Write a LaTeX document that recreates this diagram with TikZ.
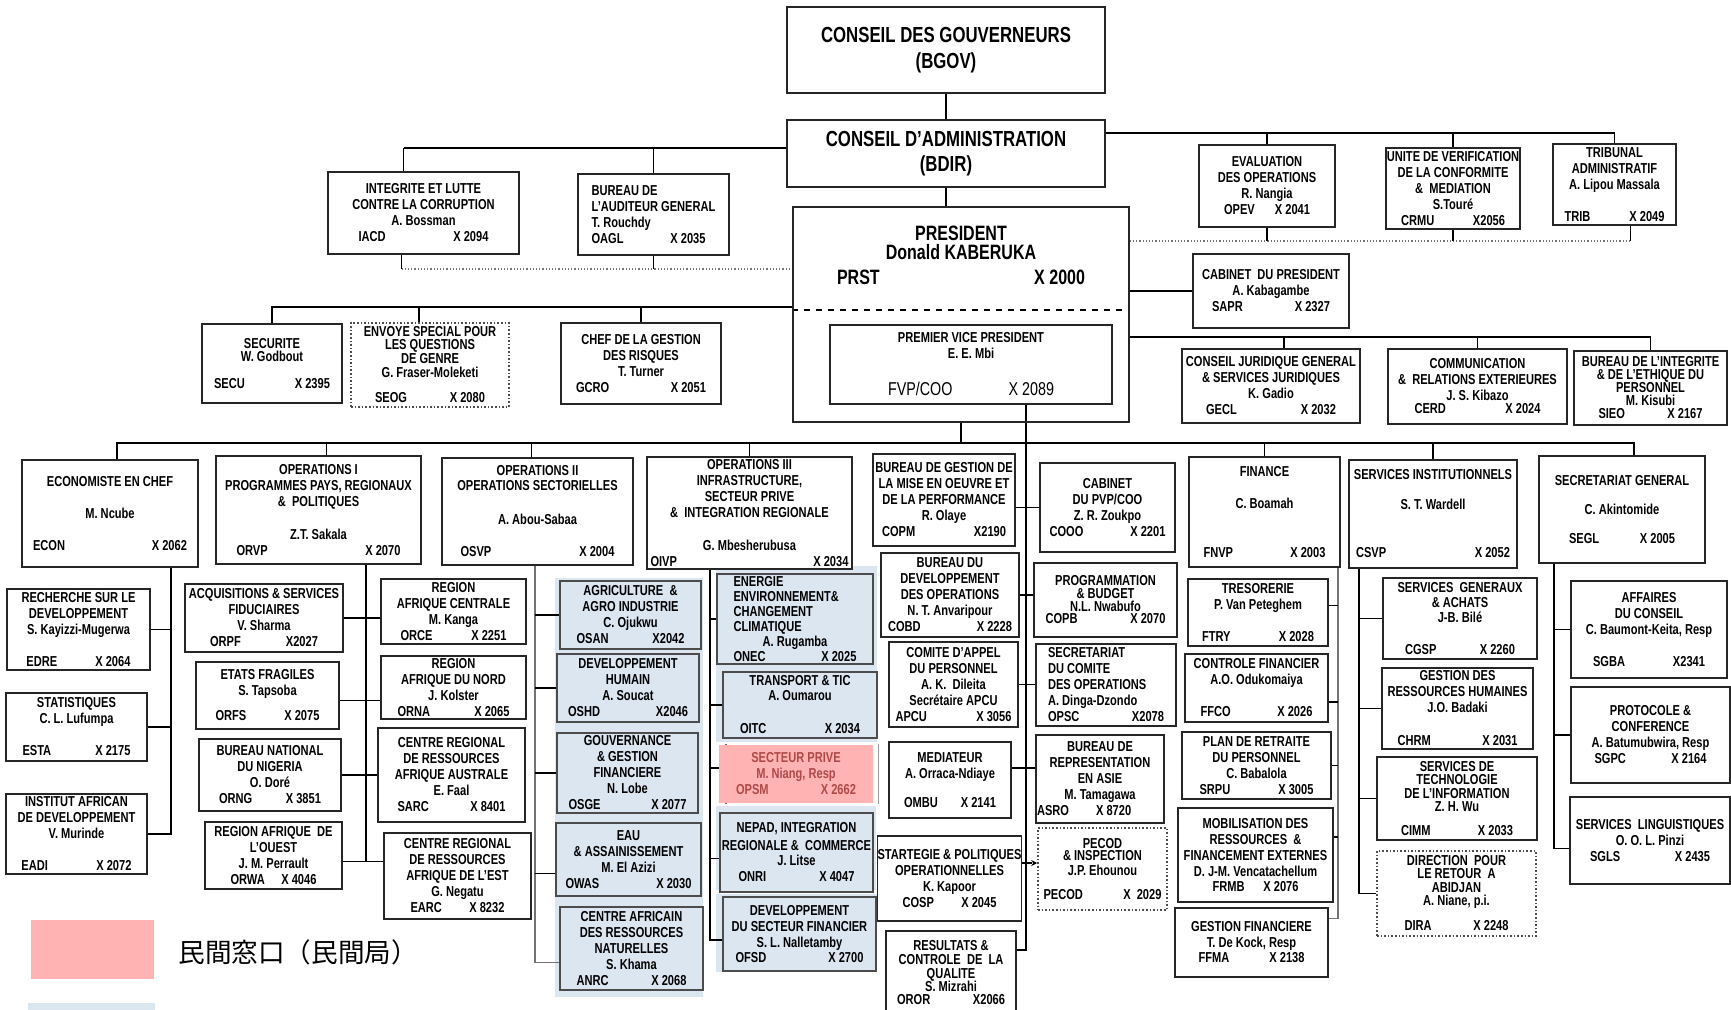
\documentclass[tikz,border=0pt]{standalone}
\usepackage{fontspec}
\setmainfont{Liberation Sans}[FakeStretch=0.77]
\newfontfamily\cjkfont{Noto Sans CJK JP}
\usepackage{tikz}
\usetikzlibrary{backgrounds,arrows.meta}
\definecolor{bluefill}{HTML}{DCE6F1}
\definecolor{pinkfill}{HTML}{FFB3B3}
\definecolor{pinktext}{HTML}{B04A4A}
\newcommand{\unitfont}{\fontsize{7.2}{8}\selectfont\bfseries}
\newcommand{\bigfont}{\fontsize{10.9}{12.5}\selectfont\bfseries}
\newcommand{\idrow}[3][50pt]{\makebox[#1]{#2\hfill #3}}
\tikzset{
  corners/.style args = {#1/#2/#3/#4}{at = {({(#1+#3)/2},{(#2+#4)/2})}, minimum width = {(#3-#1)*0.5pt}, minimum height = {(#4-#2)*0.5pt}},
  unit/.style = {draw = black!85, line width = 0.8pt, fill = white, inner sep = 0pt, align = center, font = \unitfont},
  blueunit/.style = {unit, fill = bluefill, draw = black!70},
  dotunit/.style = {unit, draw = black!70, densely dotted},
  pinkunit/.style = {unit, draw = none, fill = pinkfill, text = pinktext},
  link/.style = {line width = 0.6pt},
  softlink/.style = {link, draw = black!55},
  bar/.style = {line width = 1.3pt},
  dotlink/.style = {line width = 0.6pt, draw = black!55, densely dotted}
}
\begin{document}
\begin{tikzpicture}[x = 0.5pt, y = -0.5pt]
\useasboundingbox (0,0) rectangle (1731,1009);
\clip (0,0) rectangle (1731,1009);

\node[unit, corners = 787/7/1105/93, font = \fontsize{10.9}{13}\selectfont\bfseries] (bgov) {CONSEIL DES GOUVERNEURS\\(BGOV)};
\node[unit, corners = 787/120/1105/187, font = \bigfont] (bdir) {CONSEIL D’ADMINISTRATION\\(BDIR)};
\node[unit, fill = none, corners = 793/207/1129/422] (prst) {};
\node[align = center, inner sep = 0pt, font = \fontsize{10.4}{9.5}\selectfont\bfseries] (prsttxt) at (961,255)
  {PRESIDENT\\Donald KABERUKA\\[3pt]\makebox[124pt]{PRST\hfill X 2000}};
\node[unit, corners = 830/325/1112/404] (pvp)
  {PREMIER VICE PRESIDENT\\E. E. Mbi\\[10.5pt]{\fontsize{9.3}{8}\selectfont\mdseries\makebox[83pt]{FVP/COO\hfill X 2089}}};

\node[unit, corners = 328/172/519/254] (iacd) {INTEGRITE ET LUTTE\\CONTRE LA CORRUPTION\\A. Bossman\\\idrow[65pt]{IACD}{X 2094}};
\node[unit, align = left, corners = 578/174/729/255] (oagl) {BUREAU DE\\L’AUDITEUR GENERAL\\T. Rouchdy\\\makebox[57pt][l]{OAGL\hfill X 2035}};
\node[unit, corners = 1199/145/1335/227] (opev) {EVALUATION\\DES OPERATIONS\\R. Nangia\\\idrow[43pt]{OPEV}{X 2041}};
\node[unit, corners = 1386/148/1520/229] (crmu) {UNITE DE VERIFICATION\\DE LA CONFORMITE\\\&\ \ MEDIATION\\S.Touré\\\idrow[52pt]{CRMU}{X2056}};
\node[unit, corners = 1553/144/1676/225] (trib) {TRIBUNAL\\ADMINISTRATIF\\A. Lipou Massala\\[8pt]\idrow[50pt]{TRIB}{X 2049}};
\node[unit, corners = 1193/254/1349/328] (sapr) {CABINET\ \ DU PRESIDENT\\A. Kabagambe\\\idrow[59pt]{SAPR}{X 2327}};

\node[unit, corners = 202/324/342/403] (secu) {SECURITE\\[-1.5pt]W. Godbout\\[5.5pt]\idrow[58pt]{SECU}{X 2395}};
\node[dotunit, corners = 351/323/509/407] (seog) {ENVOYE SPECIAL POUR\\[-1.5pt]LES QUESTIONS\\[-1pt]DE GENRE\\[-1pt]G. Fraser-Moleketi\\[4.5pt]\idrow[55pt]{SEOG}{X 2080}};
\node[unit, corners = 561/323/721/404] (gcro) {CHEF DE LA GESTION\\DES RISQUES\\T. Turner\\\idrow[65pt]{GCRO}{X 2051}};
\node[unit, corners = 1182/349/1360/423] (gecl) {CONSEIL JURIDIQUE GENERAL\\\& SERVICES JURIDIQUES\\K. Gadio\\\idrow[65pt]{GECL}{X 2032}};
\node[unit, corners = 1388/349/1567/424] (cerd) {COMMUNICATION\\\&\ \ RELATIONS EXTERIEURES\\J. S. Kibazo\\[-1.5pt]\idrow[63pt]{CERD}{X 2024}};
\node[unit, corners = 1574/351/1727/425] (sieo) {BUREAU DE L’INTEGRITE\\[-1.5pt]\& DE L’ETHIQUE DU\\[-1.5pt]PERSONNEL\\[-1.5pt]M. Kisubi\\[-1.5pt]\idrow[52pt]{SIEO}{X 2167}};

\node[unit, corners = 22/460/198/567] (econ) {ECONOMISTE EN CHEF\\[8pt]M. Ncube\\[8pt]\idrow[77pt]{ECON}{X 2062}};
\node[unit, corners = 216/456/421/564] (orvp) {OPERATIONS I\\PROGRAMMES PAYS, REGIONAUX\\\&\ \ POLITIQUES\\[8.5pt]Z.T. Sakala\\\idrow[82pt]{ORVP}{X 2070}};
\node[unit, corners = 442/458/633/565] (osvp) {OPERATIONS II\\[-0.5pt]OPERATIONS SECTORIELLES\\[9pt]A. Abou-Sabaa\\[8pt]\idrow[77pt]{OSVP}{X 2004}};
\node[unit, corners = 647/457/852/569] (oivp) {OPERATIONS III\\INFRASTRUCTURE,\\SECTEUR PRIVE\\\&\ \ INTEGRATION REGIONALE\\[8.5pt]G. Mbesherubusa\\\idrow[99pt]{OIVP}{X 2034}};
\node[unit, corners = 873/454/1015/546] (copm) {BUREAU DE GESTION DE\\LA MISE EN OEUVRE ET\\DE LA PERFORMANCE\\R. Olaye\\\idrow[62pt]{COPM}{X2190}};
\node[unit, corners = 1040/463/1175/552] (cooo) {CABINET\\DU PVP/COO\\Z. R. Zoukpo\\\idrow[58pt]{COOO}{X 2201}};
\node[unit, corners = 1189/457/1340/567] (fnvp) {FINANCE\\[8pt]C. Boamah\\[16.5pt]\idrow[61pt]{FNVP}{X 2003}};
\node[unit, corners = 1349/460/1517/568] (csvp) {SERVICES INSTITUTIONNELS\\[7pt]S. T. Wardell\\[16pt]\idrow[77pt]{CSVP}{X 2052}};
\node[unit, corners = 1539/456/1705/563] (segl) {SECRETARIAT GENERAL\\[6.5pt]C. Akintomide\\[6.5pt]\idrow[53pt]{SEGL}{X 2005}};

\node[unit, corners = 7/589/150/670] (edre) {RECHERCHE SUR LE\\DEVELOPPEMENT\\S. Kayizzi-Mugerwa\\[8pt]\idrow[52pt]{EDRE}{X 2064}};
\node[unit, corners = 6/693/147/761] (esta) {STATISTIQUES\\C. L. Lufumpa\\[8pt]\idrow[54pt]{ESTA}{X 2175}};
\node[unit, corners = 6/794/147/874] (eadi) {INSTITUT AFRICAN\\DE DEVELOPPEMENT\\V. Murinde\\[8pt]\idrow[55pt]{EADI}{X 2072}};

\node[unit, corners = 185/584/343/652] (orpf) {ACQUISITIONS \& SERVICES\\FIDUCIAIRES\\V. Sharma\\\idrow[54pt]{ORPF}{X2027}};
\node[unit, corners = 381/579/526/644] (orce) {REGION\\AFRIQUE CENTRALE\\M. Kanga\\\idrow[53pt]{ORCE}{X 2251}};
\node[unit, corners = 196/662/339/729] (orfs) {ETATS FRAGILES\\S. Tapsoba\\[4.5pt]\idrow[52pt]{ORFS}{X 2075}};
\node[unit, corners = 381/656/526/719] (orna) {REGION\\AFRIQUE DU NORD\\J. Kolster\\\idrow[56pt]{ORNA}{X 2065}};
\node[unit, corners = 199/739/341/811] (orng) {BUREAU NATIONAL\\DU NIGERIA\\O. Doré\\\idrow[51pt]{ORNG}{X 3851}};
\node[unit, corners = 378/728/525/822] (sarc) {CENTRE REGIONAL\\DE RESSOURCES\\AFRIQUE AUSTRALE\\E. Faal\\\idrow[54pt]{SARC}{X 8401}};
\node[unit, corners = 205/822/342/889] (orwa) {REGION AFRIQUE\ \ DE\\L’OUEST\\J. M. Perrault\\\idrow[43pt]{ORWA}{X 4046}};
\node[unit, corners = 384/833/531/919] (earc) {CENTRE REGIONAL\\DE RESSOURCES\\AFRIQUE DE L’EST\\G. Negatu\\\idrow[47pt]{EARC}{X 8232}};

\node[blueunit, corners = 560/581/701/649] (osan) {AGRICULTURE\ \ \&\\AGRO INDUSTRIE\\C. Ojukwu\\\idrow[54pt]{OSAN}{X2042}};
\node[blueunit, corners = 557/654/699/722] (oshd) {DEVELOPPEMENT\\HUMAIN\\A. Soucat\\\idrow[60pt]{OSHD}{X2046}};
\node[blueunit, corners = 557/733/698/813] (osge) {GOUVERNANCE\\\& GESTION\\FINANCIERE\\N. Lobe\\\idrow[59pt]{OSGE}{X 2077}};
\node[blueunit, corners = 556/823/701/896] (owas) {EAU\\\& ASSAINISSEMENT\\M. El Azizi\\\idrow[63pt]{OWAS}{X 2030}};
\node[blueunit, corners = 560/907/703/990] (anrc) {CENTRE AFRICAIN\\DES RESSOURCES\\NATURELLES\\S. Khama\\\idrow[55pt]{ANRC}{X 2068}};

\node[blueunit, align = left, corners = 717/574/873/664] (onec) {ENERGIE\\[-0.5pt]ENVIRONNEMENT\&\\[-0.5pt]CHANGEMENT\\[-0.5pt]CLIMATIQUE\\[-0.5pt]\makebox[61.5pt]{A. Rugamba}\\[-0.5pt]\makebox[61.5pt]{ONEC\hfill X 2025}};
\node[blueunit, corners = 723/672/877/738] (oitc) {TRANSPORT \& TIC\\[-0.5pt]A. Oumarou\\[8.5pt]\idrow[60pt]{OITC}{X 2034}};
\node[pinkunit, corners = 719/745/873/803] (opsm) {SECTEUR PRIVE\\M. Niang, Resp\\\idrow[60pt]{OPSM}{X 2662}};
\node[blueunit, corners = 720/813/873/892] (onri) {NEPAD, INTEGRATION\\[1pt]REGIONALE \&\ \ COMMERCE\\[-0.5pt]J. Litse\\\idrow[58pt]{ONRI}{X 4047}};
\node[blueunit, corners = 723/897/876/971] (ofsd) {DEVELOPPEMENT\\DU SECTEUR FINANCIER\\S. L. Nalletamby\\[-0.5pt]\idrow[64pt]{OFSD}{X 2700}};

\node[unit, corners = 881/553/1019/637] (cobd) {BUREAU DU\\DEVELOPPEMENT\\DES OPERATIONS\\N. T. Anvaripour\\\idrow[62pt]{COBD}{X 2228}};
\node[unit, corners = 1034/563/1177/637] (copb) {PROGRAMMATION\\[-1.5pt]\& BUDGET\\[-1.5pt]N.L. Nwabufo\\[-2pt]\idrow[60pt]{COPB}{X 2070}};
\node[unit, corners = 889/642/1018/727] (apcu) {COMITE D’APPEL\\DU PERSONNEL\\A. K.\ \ Dileita\\Secrétaire APCU\\\idrow[58pt]{APCU}{X 3056}};
\node[unit, align = left, corners = 1036/644/1176/726] (opsc) {SECRETARIAT\\DU COMITE\\DES OPERATIONS\\A. Dinga-Dzondo\\\makebox[58pt][l]{OPSC\hfill X2078}};
\node[unit, corners = 889/742/1011/818] (ombu) {MEDIATEUR\\A. Orraca-Ndiaye\\[6.5pt]\idrow[46pt]{OMBU}{X 2141}};
\node[unit, corners = 1036/735/1164/823] (asro) {BUREAU DE\\REPRESENTATION\\EN ASIE\\M. Tamagawa\\\makebox[63pt][l]{ASRO\hspace{13.5pt}X 8720}};
\node[unit, corners = 878/836/1021/921] (cosp) {STARTEGIE \& POLITIQUES\\OPERATIONNELLES\\K. Kapoor\\\idrow[47pt]{COSP}{X 2045}};
\node[dotunit, corners = 1038/828/1167/910] (pecod) {PECOD\\[-2pt]\& INSPECTION\\[-0.5pt]J.P. Ehounou\\[4pt]\idrow[59pt]{PECOD}{X\ \ 2029}};
\node[unit, corners = 886/931/1016/1015] (oror) {RESULTATS \&\\[-1pt]CONTROLE\ \ DE\ \ LA\\[-1pt]QUALITE\\[-1.5pt]S. Mizrahi\\[-1.5pt]\idrow[54pt]{OROR}{X2066}};

\node[unit, corners = 1188/579/1328/646] (ftry) {TRESORERIE\\P. Van Peteghem\\[8pt]\idrow[56pt]{FTRY}{X 2028}};
\node[unit, corners = 1185/654/1328/722] (ffco) {CONTROLE FINANCIER\\A.O. Odukomaiya\\[8pt]\idrow[56pt]{FFCO}{X 2026}};
\node[unit, corners = 1182/732/1331/799] (srpu) {PLAN DE RETRAITE\\DU PERSONNEL\\C. Babalola\\\idrow[57pt]{SRPU}{X 3005}};
\node[unit, corners = 1178/808/1333/902] (frmb) {MOBILISATION DES\\RESSOURCES\ \ \&\\FINANCEMENT EXTERNES\\D. J-M. Vencatachellum\\[-0.5pt]\idrow[43pt]{FRMB}{X 2076}};
\node[unit, corners = 1175/908/1328/977] (ffma) {GESTION FINANCIERE\\T. De Kock, Resp\\[-0.5pt]\idrow[53pt]{FFMA}{X 2138}};

\node[unit, corners = 1383/578/1537/659] (cgsp) {SERVICES\ \ GENERAUX\\[-0.5pt]\& ACHATS\\[-0.5pt]J-B. Bilé\\[8pt]\idrow[55pt]{CGSP}{X 2260}};
\node[unit, corners = 1382/668/1533/749] (chrm) {GESTION DES\\RESSOURCES HUMAINES\\J.O. Badaki\\[8.5pt]\idrow[60pt]{CHRM}{X 2031}};
\node[unit, corners = 1377/757/1537/840] (cimm) {SERVICES DE\\[-1.5pt]TECHNOLOGIE\\[-1pt]DE L’INFORMATION\\[-1.5pt]Z. H. Wu\\[4pt]\idrow[56pt]{CIMM}{X 2033}};
\node[dotunit, corners = 1377/851/1536/936] (dira) {DIRECTION\ \ POUR\\[-1.5pt]LE RETOUR\ \ A\\[-1pt]ABIDJAN\\[-1.5pt]A. Niane, p.i.\\[4.5pt]\idrow[52pt]{DIRA}{X 2248}};

\node[unit, corners = 1571/581/1727/678] (sgba) {AFFAIRES\\DU CONSEIL\\C. Baumont-Keita, Resp\\[8pt]\idrow[56pt]{SGBA}{X2341}};
\node[unit, corners = 1571/687/1730/783] (sgpc) {PROTOCOLE \&\\CONFERENCE\\A. Batumubwira, Resp\\\idrow[56pt]{SGPC}{X 2164}};
\node[unit, corners = 1570/797/1730/884] (sgls) {SERVICES\ \ LINGUISTIQUES\\O. O. L. Pinzi\\\idrow[60pt]{SGLS}{X 2435}};

\node[fill = pinkfill, inner sep = 0pt, corners = 31/920/154/979] (keypink) {};
\node[anchor = west, inner sep = 0pt, font = {\fontsize{13.3}{15}\selectfont\cjkfont}] (keytext) at (178,952) {民間窓口（民間局）};
\node[fill = bluefill, inner sep = 0pt, corners = 28/1003/155/1015] (keyblue) {};

\coordinate (leftbar) at (0,148);
\coordinate (rightbar) at (0,133);
\coordinate (leftdots) at (0,269);
\coordinate (rightdots) at (0,241);
\coordinate (secbar) at (0,307);
\coordinate (sidebar) at (0,337);
\coordinate (mainbar) at (0,443);
\coordinate (econspine) at (171,0);
\coordinate (orvpspine) at (366,0);
\coordinate (osvpspine) at (535,0);
\coordinate (oivpspine) at (710,0);
\coordinate (fvpspine) at (1026,0);
\coordinate (fnvpspine) at (1338,0);
\coordinate (csvpspine) at (1359,0);
\coordinate (seglspine) at (1554,0);

\begin{pgfonlayer}{background}
\fill[bluefill] (555,578) rectangle (703,997);
\fill[bluefill] (716,566) rectangle (877,742);
\fill[bluefill] (716,806) rectangle (876,890);
\fill[bluefill] (716,894) rectangle (877,972);

\draw[link] (bgov) -- (bdir);
\draw[link] (bdir.south) -- (bdir.south |- prst.north);
\draw[bar] (bdir.west |- leftbar) -- ([xshift = -10pt]iacd.north |- leftbar);
\draw[link] ([xshift = -10pt]iacd.north) -- ([xshift = -10pt]iacd.north |- leftbar);
\draw[link] (oagl.north) -- (oagl.north |- leftbar);
\draw[bar] (bdir.east |- rightbar) -- (trib.north |- rightbar);
\draw[link] (opev.north) -- (opev.north |- rightbar);
\draw[link] (crmu.north) -- (crmu.north |- rightbar);
\draw[link] (trib.north) -- (trib.north |- rightbar);

\draw[dotlink] ([xshift = -11pt]iacd.south |- leftdots) -- (prst.west |- leftdots);
\draw[link] ([xshift = -11pt]iacd.south) -- ([xshift = -11pt]iacd.south |- leftdots);
\draw[link] (oagl.south) -- (oagl.south |- leftdots);
\draw[dotlink] (prst.east |- rightdots) -- ([xshift = 8pt]trib.south |- rightdots);
\draw[link] (opev.south) -- (opev.south |- rightdots);
\draw[link] (crmu.south) -- (crmu.south |- rightdots);
\draw[link] ([xshift = 8pt]trib.south) -- ([xshift = 8pt]trib.south |- rightdots);

\draw[link] (sapr.west) -- (sapr.west -| prst.east);
\draw[link] (prst.east |- sidebar) -| (sieo.north);
\draw[link] ([xshift = 6.5pt]gecl.north) -- ([xshift = 6.5pt]gecl.north |- sidebar);
\draw[link] (cerd.north) -- (cerd.north |- sidebar);
\draw[link] (prst.west |- secbar) -| (secu.north);
\draw[link] ([xshift = -5.5pt]seog.north) -- ([xshift = -5.5pt]seog.north |- secbar);
\draw[link] (gcro.north) -- (gcro.north |- secbar);
\draw[dashed, line width = 0.7pt] (prst.west |- 0,310) -- (prst.east |- 0,310);

\draw[link] (prst.south) -- (prst.south |- mainbar);
\draw[link, line width = 0.8pt] ([xshift = 3.5pt]econ.north) -- ([xshift = 3.5pt]econ.north |- mainbar) -- ([xshift = 6pt]segl.north |- mainbar) -- ([xshift = 6pt]segl.north);
\draw[link] ([xshift = 4pt]orvp.north) -- ([xshift = 4pt]orvp.north |- mainbar);
\draw[link] ([xshift = -3pt]osvp.north) -- ([xshift = -3pt]osvp.north |- mainbar);
\draw[link] (oivp.north) -- (oivp.north |- mainbar);
\draw[link] (fnvp.north) -- (fnvp.north |- mainbar);
\draw[link] (csvp.north) -- (csvp.north |- mainbar);

\draw[link] (econ.south -| econspine) -- (eadi.east -| econspine) -- (eadi.east);
\draw[link] (edre.east) -- (edre.east -| econspine);
\draw[link] (esta.east) -- (esta.east -| econspine);

\draw[link] (orvp.south -| orvpspine) -- ([yshift = -3pt]orwa.east -| orvpspine);
\draw[link] (orpf.east) -- (orpf.east -| orce.west);
\draw[link] ([yshift = -2.5pt]orfs.east) -- ([yshift = -2.5pt]orfs.east -| orna.west);
\draw[link] (orng.east) -- (orng.east -| sarc.west);
\draw[link] ([yshift = -3pt]orwa.east) -- ([yshift = -3pt]orwa.east -| earc.west);

\draw[softlink] (osvp.south -| osvpspine) -- ([yshift = -7pt]anrc.west -| osvpspine) -- ([yshift = -7pt]anrc.west);
\draw[link] (osan.west) -- (osan.west -| osvpspine);
\draw[link] (oshd.west) -- (oshd.west -| osvpspine);
\draw[link] (osge.west) -- (osge.west -| osvpspine);
\draw[link] ([yshift = -7pt]owas.west) -- ([yshift = -7pt]owas.west -| osvpspine);

\draw[link] (oivp.south -| oivpspine) -- ([yshift = -3pt]ofsd.west -| oivpspine) -- ([yshift = -3pt]ofsd.west);
\draw[link] (onec.west) -- (onec.west -| oivpspine);
\draw[link] (oitc.west) -- (oitc.west -| oivpspine);
\draw[link] ([yshift = 3pt]opsm.west -| oivpspine) -- ([xshift = 4pt, yshift = 3pt]opsm.west);
\draw[line width = 0.8pt, draw = pinktext] ([xshift = 4pt]opsm.north west) -- ([xshift = 4pt]opsm.south west);
\draw[link, draw = black!40] ([xshift = 2.5pt]opsm.north east) -- ([xshift = 2.5pt]opsm.south east);
\draw[link] ([yshift = -3pt]onri.west) -- ([yshift = -3pt]onri.west -| oivpspine);

\draw[link] (pvp.south -| fvpspine) -- ([yshift = 11.5pt]oror.east -| fvpspine) -- ([yshift = 11.5pt]oror.east);
\draw[link] (cooo.west) -- (cooo.west -| copm.east);
\draw[link] (cobd.east) -- (cobd.east -| copb.west);
\draw[link] (apcu.east) -- (apcu.east -| opsc.west);
\draw[link] ([yshift = 6pt]ombu.east) -- ([yshift = 6pt]ombu.east -| asro.west);
\draw[link] ([yshift = 3pt]pecod.west -| cosp.east) -- ([yshift = 3pt]pecod.west -| fvpspine);
\draw[link, densely dashed, -{Stealth[length = 3pt, width = 3pt]}] ([yshift = 3pt]pecod.west -| fvpspine) -- ([yshift = 3pt]pecod.west);

\draw[softlink] (fnvp.south -| fnvpspine) -- ([yshift = 12pt]ffma.east -| fnvpspine) -- ([yshift = 12pt]ffma.east);
\draw[link] ([yshift = 3.5pt]ftry.east) -- ([yshift = 3.5pt]ftry.east -| fnvpspine);
\draw[link] ([yshift = -7pt]ffco.east) -- ([yshift = -7pt]ffco.east -| fnvpspine);
\draw[link] (srpu.east) -- (srpu.east -| fnvpspine);
\draw[link] ([yshift = 9pt]frmb.east) -- ([yshift = 9pt]frmb.east -| fnvpspine);

\draw[link] (csvp.south -| csvpspine) -- (dira.west -| csvpspine) -- (dira.west);
\draw[link] (cgsp.west) -- (cgsp.west -| csvpspine);
\draw[link] (chrm.west) -- (chrm.west -| csvpspine);
\draw[link] (cimm.west) -- (cimm.west -| csvpspine);

\draw[link] (segl.south -| seglspine) -- ([yshift = -4pt]sgls.west -| seglspine) -- ([yshift = -4pt]sgls.west);
\draw[link] (sgba.west) -- (sgba.west -| seglspine);
\draw[link] (sgpc.west) -- (sgpc.west -| seglspine);
\end{pgfonlayer}
\end{tikzpicture}
\end{document}
